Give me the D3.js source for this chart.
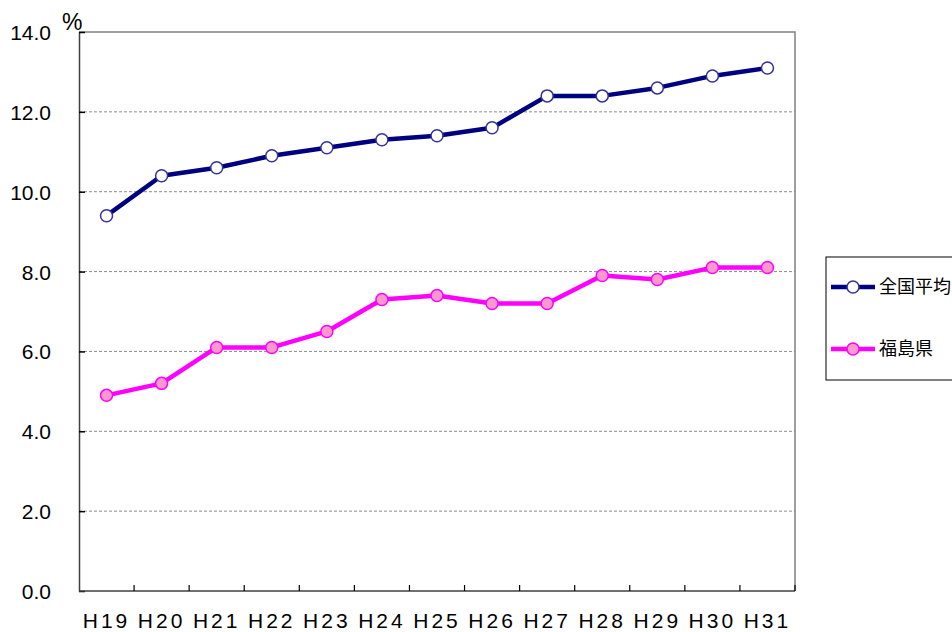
<!DOCTYPE html>
<html>
<head>
<meta charset="utf-8">
<script src="https://cdn.jsdelivr.net/npm/d3@7"></script>
<style>
  html, body { margin: 0; padding: 0; background: #fff; }
  svg { display: block; }
</style>
</head>
<body>
<svg id="chart" width="952" height="632"></svg>
<script>
// Years (Heisei era)
const years = ["H19","H20","H21","H22","H23","H24","H25","H26","H27","H28","H29","H30","H31"];
// Rates in percent
const national = [9.4, 10.4, 10.6, 10.9, 11.1, 11.3, 11.4, 11.6, 12.4, 12.4, 12.6, 12.9, 13.1];
const fukushima = [4.9, 5.2, 6.1, 6.1, 6.5, 7.3, 7.4, 7.2, 7.2, 7.9, 7.8, 8.1, 8.1];
const yTicks = [0, 2, 4, 6, 8, 10, 12, 14];
const seriesNames = ["全国平均", "福島県"];

const series = [
  { name: seriesNames[0], values: national, line: "#000080", fill: "#ffffff", stroke: "#333399" },
  { name: seriesNames[1], values: fukushima, line: "#ff00ff", fill: "#ff99cc", stroke: "#ff00ff" }
];

const svg = d3.select("#chart");
const plot = { left: 79, right: 795, top: 32, bottom: 591 };

const x = d3.scaleBand().domain(years).range([plot.left, plot.right]).padding(0);
const y = d3.scaleLinear().domain([0, 14]).range([plot.bottom, plot.top]);

const font = "'Liberation Sans', Arial, sans-serif";

// gridlines
svg.append("g")
  .selectAll("line")
  .data(yTicks.filter(d => d > 0 && d < 14))
  .join("line")
  .attr("x1", plot.left).attr("x2", plot.right)
  .attr("y1", d => y(d)).attr("y2", d => y(d))
  .attr("stroke", "#8c8c8c").attr("stroke-width", 1)
  .attr("stroke-dasharray", "3,2");

// top and right border
svg.append("path")
  .attr("d", `M${plot.left},${plot.top}H${plot.right}V${plot.bottom}`)
  .attr("fill", "none").attr("stroke", "#808080").attr("stroke-width", 1.5);

// y axis
const yAxis = d3.axisLeft(y).tickValues(yTicks).tickFormat(d3.format(".1f")).tickSizeInner(-6).tickSizeOuter(0).tickPadding(28);
const gy = svg.append("g").attr("transform", `translate(${plot.left},0)`).call(yAxis);
gy.select(".domain").attr("stroke", "#404040").attr("stroke-width", 1.5);
gy.selectAll(".tick line").attr("stroke", "#000").attr("stroke-width", 1.5);
gy.selectAll("text").attr("font-family", font).attr("font-size", 21).attr("fill", "#000").attr("dy", "0.36em");

// x axis: ticks at band boundaries
const gx = svg.append("g");
gx.append("line")
  .attr("x1", plot.left).attr("x2", plot.right)
  .attr("y1", plot.bottom).attr("y2", plot.bottom)
  .attr("stroke", "#404040").attr("stroke-width", 1.5);
gx.selectAll("line.tk")
  .data(years.slice(1).concat(["end"]))
  .join("line").attr("class", "tk")
  .attr("x1", (d, i) => plot.left + x.bandwidth() * (i + 1))
  .attr("x2", (d, i) => plot.left + x.bandwidth() * (i + 1))
  .attr("y1", plot.bottom).attr("y2", plot.bottom - 6)
  .attr("stroke", "#000").attr("stroke-width", 1.2);
gx.selectAll("text")
  .data(years)
  .join("text")
  .attr("x", d => x(d) + x.bandwidth() / 2)
  .attr("y", 628)
  .attr("text-anchor", "middle")
  .attr("font-family", font).attr("font-size", 21)
  .attr("letter-spacing", "3px")
  .attr("fill", "#000")
  .text(d => d);

// unit label
svg.append("text")
  .attr("x", 62).attr("y", 30)
  .attr("font-family", font).attr("font-size", 23).attr("fill", "#000")
  .text("%");

// lines and markers
const line = d3.line()
  .x((d, i) => x(years[i]) + x.bandwidth() / 2)
  .y(d => y(d));

series.forEach(s => {
  svg.append("path")
    .datum(s.values)
    .attr("d", line)
    .attr("fill", "none")
    .attr("stroke", s.line)
    .attr("stroke-width", 4.5)
    .attr("stroke-linejoin", "round");
  svg.append("g")
    .selectAll("circle")
    .data(s.values)
    .join("circle")
    .attr("cx", (d, i) => x(years[i]) + x.bandwidth() / 2)
    .attr("cy", d => y(d))
    .attr("r", 6)
    .attr("fill", s.fill)
    .attr("stroke", s.stroke)
    .attr("stroke-width", 1.5);
});

// legend
const legend = svg.append("g");
legend.append("rect")
  .attr("x", 826).attr("y", 257).attr("width", 140).attr("height", 123)
  .attr("fill", "#fff").attr("stroke", "#000").attr("stroke-width", 1);
const legendY = [287, 349];
series.forEach((s, i) => {
  legend.append("line")
    .attr("x1", 831).attr("x2", 875)
    .attr("y1", legendY[i]).attr("y2", legendY[i])
    .attr("stroke", s.line).attr("stroke-width", 4.5);
  legend.append("circle")
    .attr("cx", 853).attr("cy", legendY[i]).attr("r", 6)
    .attr("fill", s.fill).attr("stroke", s.stroke).attr("stroke-width", 1.5);
  legend.append("text")
    .attr("x", 879).attr("y", legendY[i]).attr("dy", "0.36em")
    .attr("font-family", "'Noto Sans CJK JP', sans-serif").attr("font-size", 18)
    .attr("fill", "#000")
    .text(s.name);
});
</script>
</body>
</html>
